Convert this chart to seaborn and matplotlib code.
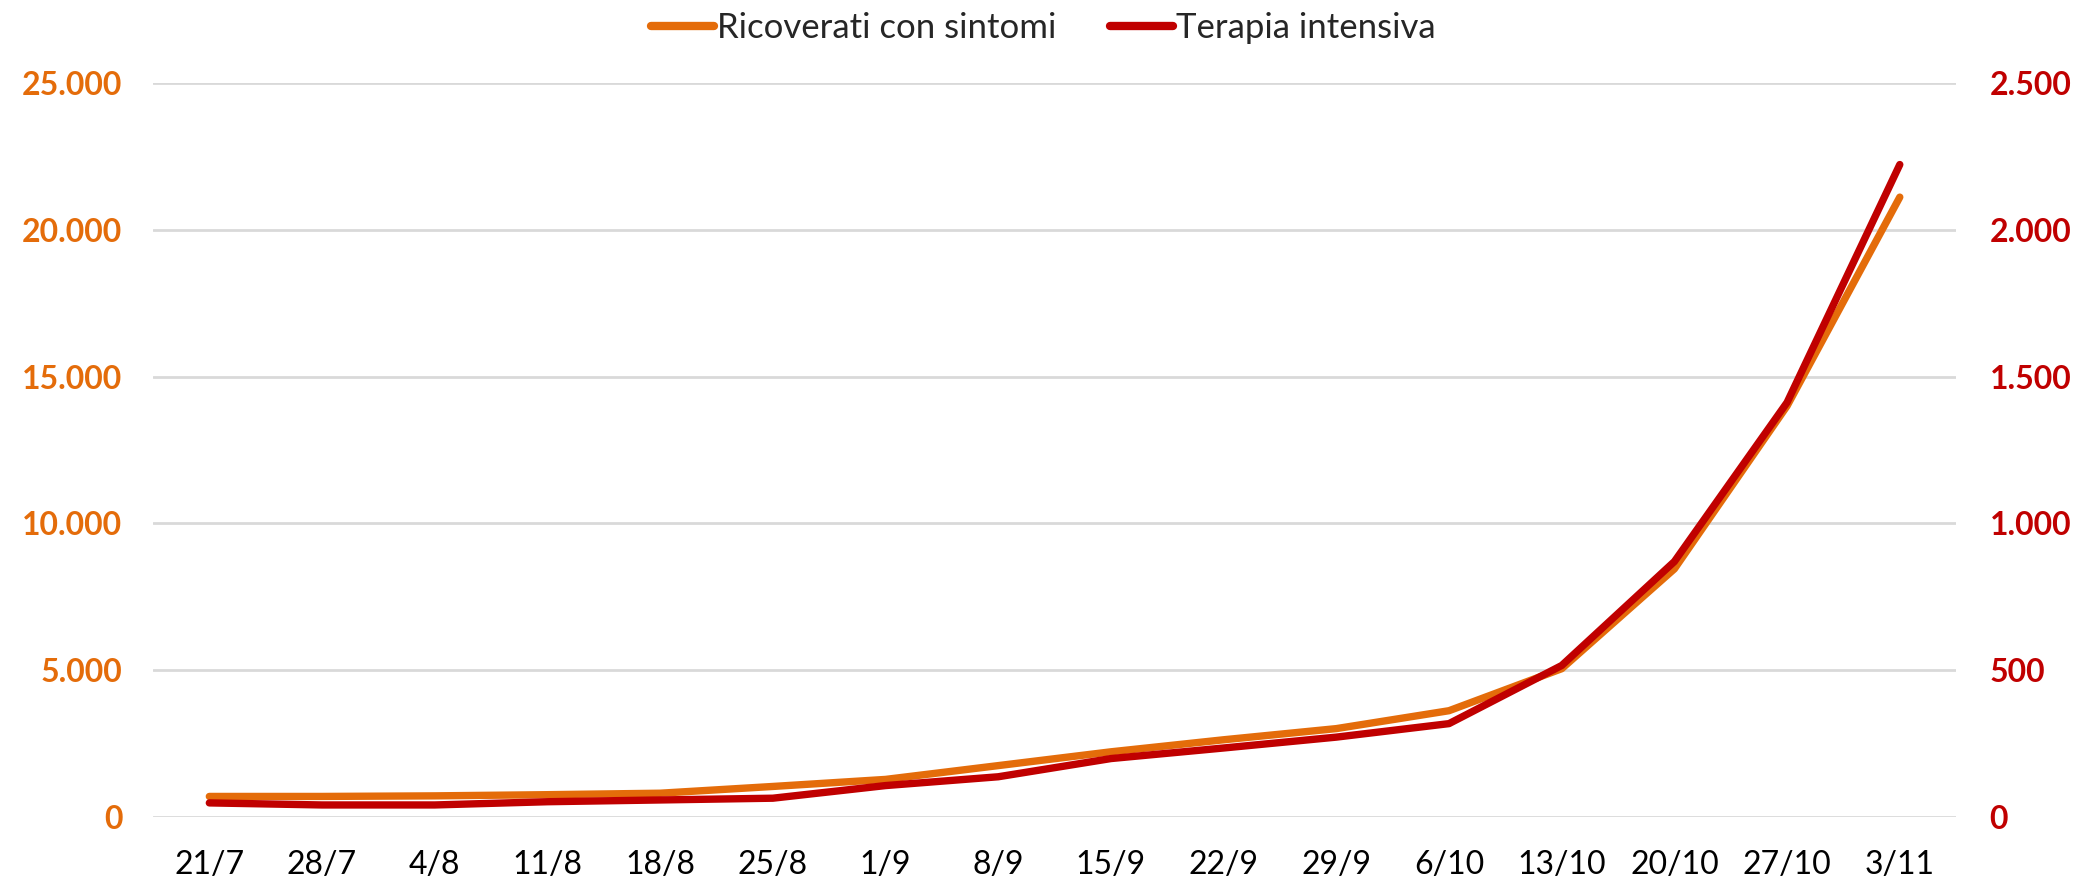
import matplotlib
matplotlib.use("Agg")
import matplotlib.pyplot as plt
import matplotlib.ticker as mticker
from matplotlib.lines import Line2D
import seaborn as sns
import pandas as pd

dates = ["21/7", "28/7", "4/8", "11/8", "18/8", "25/8", "1/9", "8/9",
         "15/9", "22/9", "29/9", "6/10", "13/10", "20/10", "27/10", "3/11"]
ricoverati = [700, 700, 720, 760, 810, 1040, 1280, 1750,
              2220, 2630, 3010, 3620, 5050, 8450, 14000, 21110]
terapia = [48, 41, 41, 52, 58, 64, 107, 137,
           199, 235, 272, 318, 516, 870, 1412, 2222]

ORANGE = "#E46C0A"
RED = "#C00000"

sns.set_theme(style="white")
plt.rcParams["font.family"] = ["Lato", "DejaVu Sans"]

df = pd.DataFrame({"pos": range(len(dates)), "ric": ricoverati, "ti": terapia})

fig = plt.figure(figsize=(20.87, 8.82), dpi=100)
ax = fig.add_axes([0.0733, 0.0737, 0.864, 0.8323])
ax2 = ax.twinx()

sns.lineplot(data=df, x="pos", y="ric", ax=ax, color=ORANGE, linewidth=5.3)
sns.lineplot(data=df, x="pos", y="ti", ax=ax2, color=RED, linewidth=5.3)

ax.set_xlim(-0.5, len(dates) - 0.5)
ax.set_ylim(0, 25000)
ax2.set_ylim(0, 2500)
ax.set_yticks(range(0, 25001, 5000))
ax2.set_yticks(range(0, 2501, 500))

fmt = mticker.FuncFormatter(lambda v, _: f"{v:,.0f}".replace(",", "."))
ax.yaxis.set_major_formatter(fmt)
ax2.yaxis.set_major_formatter(fmt)

ax.set_xticks(range(len(dates)))
ax.set_xticklabels(dates)
ax.tick_params(axis="x", labelsize=23, colors="black", length=0, pad=24)
ax.tick_params(axis="y", labelsize=23, colors=ORANGE, length=0, pad=22)
ax2.tick_params(axis="y", labelsize=23, colors=RED, length=0, pad=24)
for t in ax.get_yticklabels():
    t.set_fontweight("bold")
for t in ax2.get_yticklabels():
    t.set_fontweight("bold")

ax.grid(axis="y", color="#D9D9D9", linewidth=2)
ax.grid(axis="x", visible=False)
ax2.grid(False)
for a in (ax, ax2):
    for s in a.spines.values():
        s.set_visible(False)
    a.set_xlabel("")
    a.set_ylabel("")

handles = [Line2D([0], [0], color=ORANGE, linewidth=6),
           Line2D([0], [0], color=RED, linewidth=6)]
fig.legend(handles, ["Ricoverati con sintomi", "Terapia intensiva"],
           loc="center", bbox_to_anchor=(0.5, 0.968), ncol=2, frameon=False,
           fontsize=25, handlelength=1.8, handletextpad=0.1, columnspacing=1.55)

fig.savefig("out.png", dpi=100)
